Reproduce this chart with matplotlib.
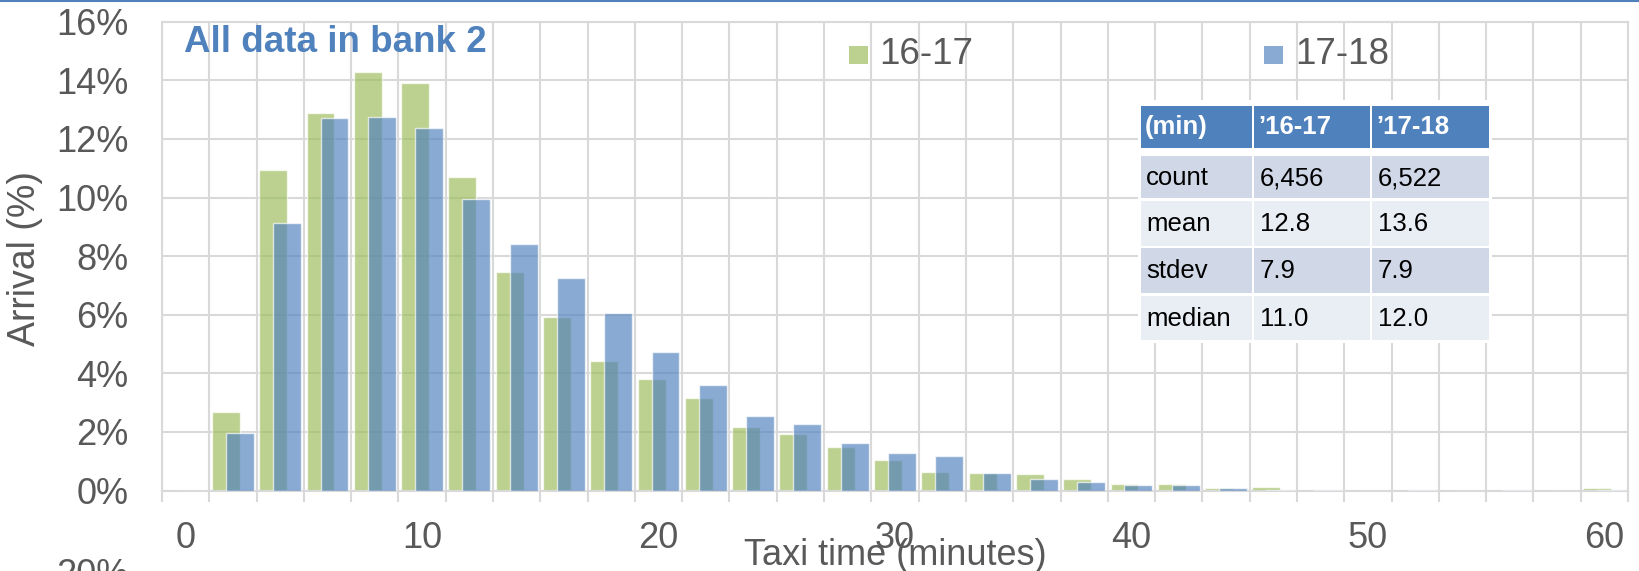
import numpy as np
import matplotlib
matplotlib.use("Agg")
import matplotlib.pyplot as plt
from matplotlib.patches import Rectangle

plt.rcParams['font.family'] = ['Liberation Sans', 'DejaVu Sans']

# taxi time bins (minutes) and share of arrivals (%)
minutes = list(range(0, 62, 2))
share_1617 = [0, 2.67, 10.93, 12.88, 14.28, 13.90, 10.71, 7.45, 5.92, 4.42,
              3.81, 3.16, 2.17, 1.94, 1.49, 1.05, 0.62, 0.59, 0.57, 0.40,
              0.23, 0.23, 0.08, 0.12, 0.01, 0, 0.01, 0, 0.02, 0, 0.08]
share_1718 = [0, 1.96, 9.12, 12.71, 12.76, 12.36, 9.95, 8.41, 7.26, 6.05,
              4.72, 3.61, 2.56, 2.26, 1.61, 1.28, 1.17, 0.59, 0.40, 0.29,
              0.18, 0.20, 0.10, 0.03, 0.03, 0, 0.02, 0, 0.02, 0, 0.02]
series_labels = ['16-17', '17-18']

# summary table
table_header = ['(min)', '\u201916-17', '\u201917-18']
table_rows = [['count', '6,456', '6,522'],
              ['mean', '12.8', '13.6'],
              ['stdev', '7.9', '7.9'],
              ['median', '11.0', '12.0']]

green = '#9BBB59'
blue = '#4F81BD'
grey_text = '#595959'
grid_col = '#D9D9D9'

W, H = 1640, 571
fig = plt.figure(figsize=(W / 100, H / 100), dpi=100)
ax = fig.add_axes([162 / W, 1 - 490.6 / H, (1628 - 162) / W, (490.6 - 21.7) / H])

x = np.array(minutes)
b1 = ax.bar(x - 0.295, share_1617, width=1.18, color=green, alpha=0.667,
            edgecolor=(1, 1, 1, 0.35), linewidth=1, zorder=2)
b2 = ax.bar(x + 0.295, share_1718, width=1.18, color=blue, alpha=0.667,
            edgecolor=(1, 1, 1, 0.35), linewidth=1, zorder=3)

ax.set_xlim(-1, 61)
ax.set_ylim(0, 16)
ax.set_yticks(range(0, 17, 2))
ax.set_yticklabels(['%d%%' % v for v in range(0, 17, 2)])
ax.set_xticks(range(0, 61, 10))
ax.set_xticks(np.arange(-1, 62, 2), minor=True)
ax.set_axisbelow(True)
ax.grid(axis='y', which='major', color=grid_col, lw=1.5)
ax.grid(axis='x', which='minor', color=grid_col, lw=1.5)
ax.grid(axis='x', which='major', visible=False)
for s in ax.spines.values():
    s.set_color(grid_col)
    s.set_linewidth(1.5)
ax.tick_params(axis='y', length=0, pad=24, labelsize=26, labelcolor=grey_text)
ax.tick_params(axis='x', which='major', length=0, pad=22, labelsize=26,
               labelcolor=grey_text)
ax.tick_params(axis='x', which='minor', length=8, width=1.5, color=grid_col)

# overlay in pixel coordinates for annotations
ov = fig.add_axes([0, 0, 1, 1])
ov.set_xlim(0, W)
ov.set_ylim(H, 0)
ov.axis('off')

ov.plot([0, W], [0.8, 0.8], color=blue, lw=1.5)
ov.text(184, 43, 'All data in bank 2', color=blue, fontsize=26.5,
        fontweight='bold', ha='left', va='center')
ov.text(25, 259, 'Arrival (%)', rotation=90, color=grey_text, fontsize=27,
        ha='center', va='center')
ov.text(895, 565, 'Taxi time (minutes)', color=grey_text, fontsize=26,
        ha='center', va='baseline')
ov.text(128, 558, '20%', color=grey_text, fontsize=26, ha='right', va='top')

# legend
for (sx, tx), lab, c in zip([(849, 879), (1264, 1295)], series_labels, [green, blue]):
    ov.add_patch(Rectangle((sx, 46), 19, 18, color=c, alpha=0.667, lw=0))
    ov.text(tx, 54, lab, color=grey_text, fontsize=26.5, ha='left', va='center')

# table
col_edges = [(1141, 1252), (1254, 1370), (1372, 1489)]
row_edges = [(106, 148.3), (156, 198.3), (201, 245.7), (248.3, 292.7), (295.7, 340)]
row_fill = ['#D0D8E8', '#E9EDF4', '#D0D8E8', '#E9EDF4']
ov.add_patch(Rectangle((1138, 100), 354, 243, color='white', lw=0))
for j, (x0, x1) in enumerate(col_edges):
    y0, y1 = row_edges[0]
    ov.add_patch(Rectangle((x0, y0), x1 - x0, y1 - y0, color=blue, lw=0))
    ov.text(x0 + 4, (y0 + y1) / 2, table_header[j], color='white', fontsize=18.5,
            fontweight='bold', ha='left', va='center')
for i, row in enumerate(table_rows):
    y0, y1 = row_edges[i + 1]
    for j, (x0, x1) in enumerate(col_edges):
        ov.add_patch(Rectangle((x0, y0), x1 - x0, y1 - y0, color=row_fill[i], lw=0))
        ov.text(x0 + (5 if j == 0 else 6), (y0 + y1) / 2 + 1, row[j], color='black',
                fontsize=18.5, ha='left', va='center')

fig.savefig('out.png', dpi=100)
